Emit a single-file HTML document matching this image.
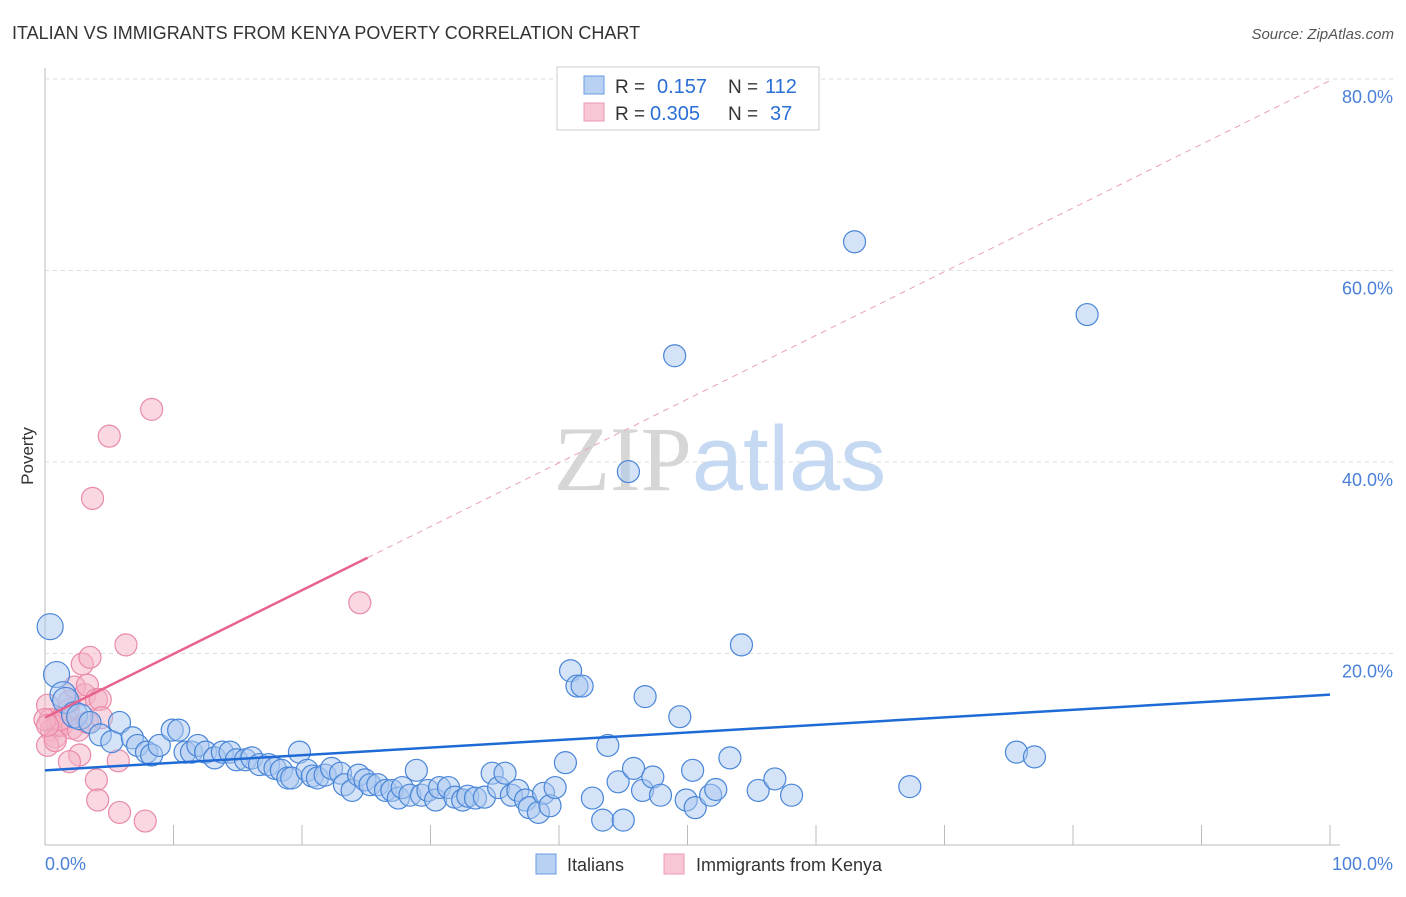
<!DOCTYPE html>
<html><head><meta charset="utf-8"><style>
body{margin:0;background:#fff;font-family:"Liberation Sans",sans-serif}
svg text{font-family:"Liberation Sans",sans-serif}
</style></head><body>
<svg id="chart" width="1406" height="892" xmlns="http://www.w3.org/2000/svg">
<text x="12" y="39" font-size="18" fill="#333">ITALIAN VS IMMIGRANTS FROM KENYA POVERTY CORRELATION CHART</text>
<text x="1394" y="39" font-size="15" fill="#555" text-anchor="end" font-style="italic">Source: ZipAtlas.com</text>
<g id="grid"></g>
<text x="720" y="490" font-size="92" text-anchor="middle"><tspan fill="#d6d6d6" font-family="Liberation Serif">ZIP</tspan><tspan fill="#c5d9f3">atlas</tspan></text>
<text transform="translate(33,456) rotate(-90)" font-size="17" fill="#333" text-anchor="middle">Poverty</text>
<g id="marks"></g>
<g>
<rect x="557" y="67" width="262" height="63" fill="#fff" stroke="#ccc"/>
<rect x="584" y="76" width="20" height="18" fill="#b8d1f3" stroke="#6a9be0"/>
<rect x="584" y="103" width="20" height="18" fill="#f8c6d4" stroke="#eb9ab2"/>
<text x="615" y="93" font-size="19" fill="#333">R =</text>
<text x="657" y="93" font-size="20" fill="#2a6fd6">0.157</text>
<text x="728" y="93" font-size="19" fill="#333">N =</text>
<text x="765" y="93" font-size="20" fill="#2a6fd6">112</text>
<text x="615" y="120" font-size="19" fill="#333">R =</text>
<text x="650" y="120" font-size="20" fill="#2a6fd6">0.305</text>
<text x="728" y="120" font-size="19" fill="#333">N =</text>
<text x="770" y="120" font-size="20" fill="#2a6fd6">37</text>
</g>
<g>
<rect x="536" y="854" width="20" height="20" fill="#b8d1f3" stroke="#6a9be0"/>
<text x="567" y="871" font-size="18" fill="#333">Italians</text>
<rect x="664" y="854" width="20" height="20" fill="#f8c6d4" stroke="#eb9ab2"/>
<text x="696" y="871" font-size="18" fill="#333">Immigrants from Kenya</text>
</g>
</svg>
<script>
const yTicks=[20,40,60,80];
const yTickLabels=["20.0%","40.0%","60.0%","80.0%"];
const xTickLabels=["0.0%","100.0%"];
const italiansX=[0.4,0.9,1.4,1.6,2.3,2.7,3.5,4.3,5.2,5.8,6.8,7.2,7.9,8.3,8.9,9.9,10.4,10.9,11.4,11.9,12.5,13.2,13.8,14.4,14.9,15.6,16.1,16.7,17.4,17.9,18.4,18.9,19.2,19.8,20.4,20.8,21.2,21.8,22.3,23.0,23.3,23.9,24.4,24.9,25.3,25.9,26.5,27.0,27.5,27.8,28.4,28.9,29.3,29.8,30.4,30.7,31.4,31.9,32.5,32.9,33.5,34.2,34.8,35.3,35.8,36.3,36.8,37.4,37.7,38.4,38.8,39.3,39.7,40.5,40.9,41.4,41.8,42.6,43.4,43.8,44.6,45.0,45.8,46.7,46.5,47.3,47.9,49.0,49.4,49.9,50.4,50.6,51.8,52.2,53.3,54.2,55.5,56.8,58.1,63.0,67.3,75.6,77.0,81.1,45.4];
const italiansY=[22.8,17.8,15.7,15.1,13.6,13.4,12.8,11.5,10.8,12.8,11.2,10.4,9.7,9.4,10.4,12.0,12.0,9.7,9.7,10.4,9.7,9.1,9.7,9.7,8.9,8.9,9.1,8.4,8.4,8.0,7.8,7.0,7.0,9.7,7.8,7.2,7.0,7.3,8.0,7.5,6.3,5.7,7.3,6.8,6.3,6.3,5.7,5.7,4.9,6.0,5.2,7.8,5.2,5.7,4.7,6.0,6.0,5.0,4.7,5.1,4.9,5.0,7.5,6.0,7.5,5.2,5.7,4.7,3.9,3.4,5.4,4.1,6.0,8.6,18.2,16.6,16.6,4.9,2.6,10.4,6.6,2.6,8.0,15.5,5.7,7.1,5.2,51.1,13.4,4.7,7.8,3.9,5.2,5.8,9.1,20.9,5.7,6.9,5.2,63.0,6.1,9.7,9.2,55.4,39.0];
const kenyaX=[0.2,0.4,0.5,0.8,0.2,1.0,1.3,1.6,1.8,1.9,2.1,2.3,2.6,2.7,2.9,3.1,3.3,3.3,3.5,3.7,4.0,4.3,4.4,4.0,4.1,5.0,5.7,5.8,6.3,7.8,8.3,24.5,1.9,0.8,1.2,0.0,0.2];
const kenyaY=[14.6,13.1,12.0,11.3,10.4,12.5,12.5,13.3,14.1,15.0,12.2,16.5,12.0,9.4,18.9,15.7,16.7,12.8,19.6,36.2,15.2,15.2,13.3,6.8,4.7,42.7,8.8,3.4,20.9,2.5,45.5,25.3,8.7,10.9,13.1,13.1,12.5];
const italiansTrend=[7.8,15.7];      // value at x=0 and x=100
const kenyaTrend=[13.3,30.0,25.1];   // at x=0, at x=end, end x
const NS="http://www.w3.org/2000/svg";
const X0=45,X1=1330,Y0=845,YPER=9.575;
const sx=v=>X0+(v/100)*(X1-X0);
const sy=v=>Y0-v*YPER;
const grid=document.getElementById('grid'),marks=document.getElementById('marks');
function mk(tag,attrs,parent){const e=document.createElementNS(NS,tag);for(const k in attrs)e.setAttribute(k,attrs[k]);parent.appendChild(e);return e;}
let ax=mk('line',{x1:X0,y1:68,x2:X0,y2:Y0,stroke:'#bbb'},grid);


let bx=mk('line',{x1:X0,y1:Y0,x2:1340,y2:Y0,stroke:'#bbb'},grid);


yTicks.forEach((t,i)=>{
 const g=mk('line',{x1:X0,y1:sy(t),x2:1395,y2:sy(t),stroke:'#ddd','stroke-dasharray':'4,4'},grid);
 
 
 const l=mk('text',{x:1393,y:sy(t)+24,'font-size':18,fill:'#4a80d8','text-anchor':'end'},grid);l.textContent=yTickLabels[i];
 
 
});
for(let i=0;i<=10;i++){const t=mk('line',{x1:sx(i*10),y1:825,x2:sx(i*10),y2:Y0,stroke:'#bbb'},grid);
 
 }
[[0,'start',45],[1,'end',1393]].forEach(([i,a,x])=>{const l=mk('text',{x:x,y:870,'font-size':18,fill:'#4a80d8','text-anchor':a},grid);l.textContent=xTickLabels[i];
 
 });
function dots(xs,ys,fill,stroke,name){for(let i=0;i<Math.min(xs.length,ys.length);i++){
 const big=xs[i]<3&&name==='italian';
 const c=mk('circle',{cx:sx(xs[i]),cy:sy(ys[i]),r:big?13:11,fill:fill,'fill-opacity':0.5,stroke:stroke,'stroke-width':1.2},marks);
 
 }}
dots(kenyaX,kenyaY,'#f4b2c6','#e98aa8','kenya');
dots(italiansX,italiansY,'#a9c8f0','#4a86d8','italian');
const slope=(kenyaTrend[1]-kenyaTrend[0])/kenyaTrend[2];
const xEndDash=Math.min(100,(80-kenyaTrend[0])/slope);
let kd=mk('line',{x1:sx(kenyaTrend[2]),y1:sy(kenyaTrend[1]),x2:sx(xEndDash),y2:sy(kenyaTrend[0]+slope*xEndDash),stroke:'#eaa0b8','stroke-dasharray':'6,5','stroke-width':1},marks);


let kl=mk('line',{x1:sx(0),y1:sy(kenyaTrend[0]),x2:sx(kenyaTrend[2]),y2:sy(kenyaTrend[1]),stroke:'#e8628e','stroke-width':2.5},marks);


let il=mk('line',{x1:sx(0),y1:sy(italiansTrend[0]),x2:sx(100),y2:sy(italiansTrend[1]),stroke:'#1f6bd6','stroke-width':2.5},marks);


</script>
</body></html>
